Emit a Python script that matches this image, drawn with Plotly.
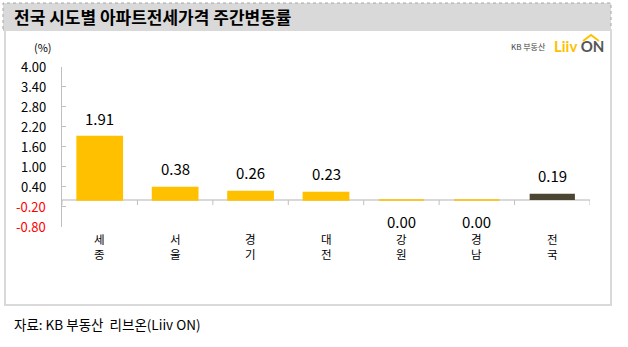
import plotly.graph_objects as go

categories = ["세종", "서울", "경기", "대전", "강원", "경남", "전국"]
values = [1.91, 0.38, 0.26, 0.23, 0.00, 0.00, 0.19]
bar_colors = ["#FFC000"] * 6 + ["#4B4631"]
ytick_vals = [4.00, 3.40, 2.80, 2.20, 1.60, 1.00, 0.40, -0.20, -0.80]
title = "전국 시도별 아파트전세가격 주간변동률"
source = "자료: KB 부동산  리브온(Liiv ON)"

FONT = "Noto Sans CJK KR"
W, H = 628, 347

def py(p):  # pixel y -> paper
    return (H - p) / H

def px(p):
    return p / W

fig = go.Figure()
fig.add_trace(go.Bar(
    x=categories, y=values, width=0.6,
    marker=dict(color=bar_colors, line=dict(color="#FFC000", width=[1.5]*6 + [0])),
    hoverinfo="skip",
))

annotations = []
# value labels
for c, v in zip(categories, values):
    if v > 0:
        annotations.append(dict(x=c, y=v, xref="x", yref="y", text=f"{v:.2f}",
                                showarrow=False, yanchor="bottom", yshift=6,
                                font=dict(family=FONT, size=15, color="#000")))
    else:
        annotations.append(dict(x=c, y=v, xref="x", yref="y", text=f"{v:.2f}",
                                showarrow=False, yanchor="top", yshift=-9,
                                font=dict(family=FONT, size=15, color="#000")))
# category labels (stacked vertically, one char per line)
for c in categories:
    annotations.append(dict(x=c, y=py(246.5), xref="x", yref="paper",
                            text="<br>".join(list(c)), showarrow=False, yanchor="middle",
                            borderpad=0,
                            font=dict(family=FONT, size=11.5, color="#000")))
# y tick labels
for t in ytick_vals:
    annotations.append(dict(x=px(48), y=t, xref="paper", yref="y", text=f"{t:.2f}",
                            showarrow=False, xanchor="right", yanchor="middle",
                            font=dict(family=FONT, size=13,
                                      color="#FF0000" if t < 0 else "#000")))
annotations += [
    dict(x=px(12), y=py(17), xref="paper", yref="paper", text="<b>" + title + "</b>",
         showarrow=False, xanchor="left", yanchor="middle",
         font=dict(family=FONT, size=17, color="#000")),
    dict(x=px(32), y=py(47), xref="paper", yref="paper", text="(%)",
         showarrow=False, yanchor="middle", font=dict(family=FONT, size=11, color="#000")),
    dict(x=px(12), y=py(324), xref="paper", yref="paper", text=source,
         showarrow=False, xanchor="left", yanchor="middle",
         font=dict(family=FONT, size=13.5, color="#000")),
    dict(x=px(548), y=py(46), xref="paper", yref="paper", text="KB 부동산",
         showarrow=False, xanchor="right", yanchor="middle",
         font=dict(family=FONT, size=8, color="#444")),
    dict(x=px(552), y=py(46), xref="paper", yref="paper",
         text="<b><span style='color:#FFC000'>Liiv</span> <span style='color:#555'>ON</span></b>",
         showarrow=False, xanchor="left", yanchor="middle", font=dict(family="Lato", size=15)),
]

shapes = [
    # title bar
    dict(type="rect", xref="paper", yref="paper", x0=px(3), x1=px(611), y0=py(30), y1=py(3),
         fillcolor="#D9D9D9", line=dict(color="#A6A6A6", width=1, dash="dot"), layer="below"),
    # chart box
    dict(type="rect", xref="paper", yref="paper", x0=px(5), x1=px(611), y0=py(305), y1=py(30),
         fillcolor="rgba(0,0,0,0)", line=dict(color="#D9D9D9", width=2), layer="below"),
    # zero line
    dict(type="line", xref="paper", yref="y", x0=px(62), x1=px(590), y0=0, y1=0,
         line=dict(color="#D9D9D9", width=2), layer="below"),
    # roof icon
    dict(type="path", xref="paper", yref="paper",
         path=f"M {px(583)},{py(41)} L {px(591)},{py(35)} L {px(599)},{py(41)}",
         line=dict(color="#FFC000", width=2)),
]
# x axis boundary ticks (pointing down from zero line)
for i in range(len(categories) + 1):
    shapes.append(dict(type="line", xref="x", yref="y", ysizemode="pixel", yanchor=0,
                       x0=i - 0.5, x1=i - 0.5, y0=0, y1=-5,
                       line=dict(color="#BFBFBF", width=1), layer="below"))

fig.update_layout(
    width=W, height=H, margin=dict(l=0, r=0, t=0, b=0),
    paper_bgcolor="white", plot_bgcolor="white", showlegend=False,
    xaxis=dict(domain=[px(62), px(590)], range=[-0.5, 6.5], showticklabels=False,
               showline=False, showgrid=False, zeroline=False, ticks=""),
    yaxis=dict(domain=[py(226.7), py(67)], range=[-0.8, 4.0], tickvals=ytick_vals,
               showticklabels=False, showgrid=False, zeroline=False,
               showline=True, linecolor="#BFBFBF", linewidth=1,
               ticks="inside", ticklen=4, tickcolor="#BFBFBF"),
    annotations=annotations, shapes=shapes,
)
fig.write_html("out.html")
